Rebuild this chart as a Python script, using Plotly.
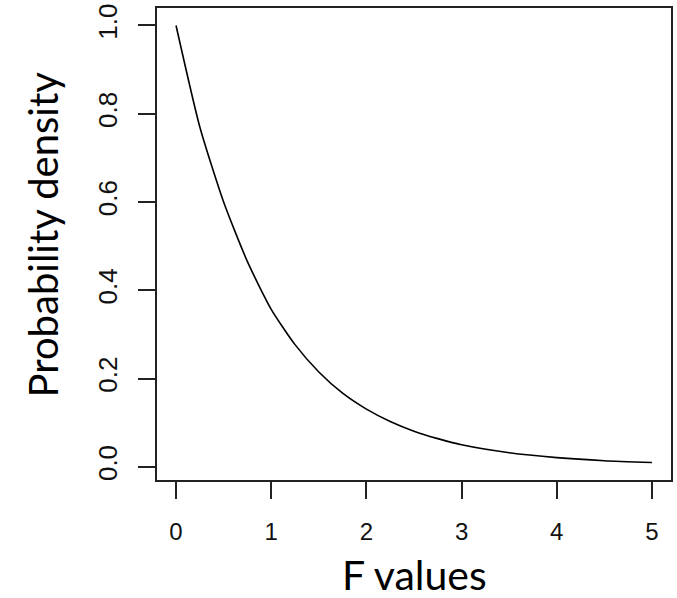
import plotly.graph_objects as go

# Values
f_values = [0, 0.25, 0.5, 0.75, 1.0, 1.25, 1.5, 1.75, 2.0, 2.25, 2.5, 2.75, 3.0, 3.5, 4.0, 4.5, 5.0]
density = [1.00, 0.77, 0.60, 0.465, 0.357, 0.277, 0.215, 0.167, 0.131, 0.103, 0.081, 0.064, 0.050, 0.032, 0.021, 0.014, 0.0099]

x_ticks = [0, 1, 2, 3, 4, 5]
x_tick_labels = ["0", "1", "2", "3", "4", "5"]
y_ticks = [0.0, 0.2, 0.4, 0.6, 0.8, 1.0]
y_tick_labels = ["0.0", "0.2", "0.4", "0.6", "0.8", "1.0"]

W, H = 677, 598
L, R, T, B = 157, 4, 8, 118

fig = go.Figure()
fig.add_trace(go.Scatter(
    x=f_values, y=density, mode="lines",
    line=dict(color="black", width=1.6, shape="spline", smoothing=0.6),
    hoverinfo="skip", showlegend=False,
))

fam = "Liberation Sans, Arial, sans-serif"
fig.update_layout(
    width=W, height=H,
    margin=dict(l=L, r=R, t=T, b=B, pad=0),
    paper_bgcolor="white", plot_bgcolor="white",
    xaxis=dict(
        range=[-0.2, 5.2], tickvals=x_ticks, ticktext=x_tick_labels,
        ticks="outside", ticklen=17, tickwidth=1.6, tickcolor="#222",
        showline=True, linecolor="#222", linewidth=2, mirror=True,
        showgrid=False, zeroline=False,
        tickfont=dict(family=fam, size=24, color="#111"),
        ticklabelstandoff=12,
    ),
    yaxis=dict(
        range=[-0.0297, 1.0396], tickvals=y_ticks, ticktext=y_tick_labels,
        ticks="outside", ticklen=17, tickwidth=1.6, tickcolor="#222",
        showline=True, linecolor="#222", linewidth=2, mirror=True,
        showgrid=False, zeroline=False,
        tickfont=dict(family=fam, size=26, color="#111"), tickangle=-90,
        ticklabelstandoff=11,
    ),
    annotations=[
        dict(text="F values", xref="paper", yref="paper", x=0.5, y=-0.2,
             xanchor="center", yanchor="middle", showarrow=False,
             font=dict(family="Lato, sans-serif", size=41, color="black")),
        dict(text="Probability density", xref="paper", yref="paper", x=-0.222, y=0.52,
             xanchor="center", yanchor="middle", textangle=-90, showarrow=False,
             font=dict(family="Lato, sans-serif", size=40, color="black")),
    ],
)

fig.write_html("out.html")
